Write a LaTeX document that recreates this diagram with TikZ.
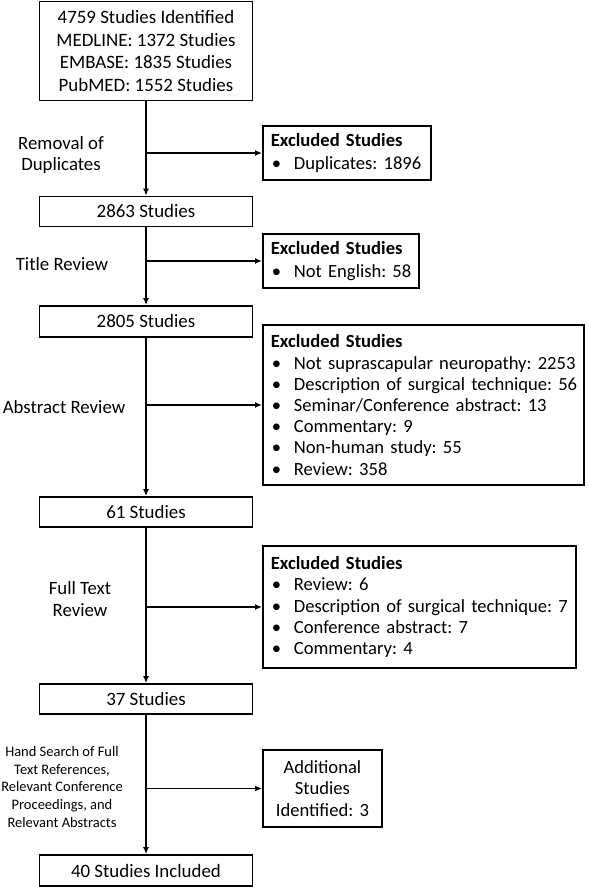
\documentclass[tikz,border=0pt]{standalone}
\usepackage{fontspec}
\setmainfont{Carlito}
\usetikzlibrary{arrows.meta}
\frenchspacing
\tikzset{
  stage/.style={draw, line width=1.8pt, minimum width=213pt, align=center, inner sep=2pt, font=\fontsize{18.9}{22.6}\selectfont},
  excl/.style={draw, line width=1.8pt, align=left, anchor=west, inner xsep=3pt, font=\fontsize{18.6}{21.2}\selectfont},
  lbl/.style={align=center, font=\fontsize{18.8}{21.5}\selectfont},
  flow/.style={line width=1.8pt, -{Latex[length=7pt,width=6pt]}}
}
\newcommand{\itm}[1]{\hspace*{6pt}\makebox[22pt][l]{\textbullet}#1}
\newcommand{\hdr}[1]{\hspace*{5pt}\textbf{#1}}
\begin{document}
\begin{tikzpicture}[x=1pt,y=-1pt]
        \useasboundingbox (0,0) rectangle (589,887);
        % Nodes
        \node (ident) [stage, minimum height=99pt] at (146, 51) {4759 Studies Identified\\MEDLINE: 1372 Studies\\EMBASE: 1835 Studies\\PubMED: 1552 Studies};
        \node (s2863) [stage, minimum height=30pt] at (146, 211.5) {2863 Studies};
        \node (s2805) [stage, minimum height=31pt] at (146, 321.5) {2805 Studies};
        \node (s61) [stage, minimum height=30pt] at (146, 512) {61 Studies};
        \node (s37) [stage, minimum height=30pt] at (146, 699) {37 Studies};
        \node (s40) [stage, minimum height=31pt] at (146, 870.5) {40 Studies Included};

        \node (ex1) [excl, text width=162pt, minimum height=54pt, font=\fontsize{18.6}{22.5}\selectfont] at (262, 153) {\hdr{Excluded Studies}\\\itm{Duplicates: 1896}};
        \node (ex2) [excl, text width=150pt, minimum height=54pt, font=\fontsize{18.6}{22.5}\selectfont] at (262, 261) {\hdr{Excluded Studies}\\\itm{Not English: 58}};
        \node (ex3) [excl, text width=315pt, minimum height=160pt] at (262, 405) {\hdr{Excluded Studies}\\\itm{Not suprascapular neuropathy: 2253}\\\itm{Description of surgical technique: 56}\\\itm{Seminar/Conference abstract: 13}\\\itm{Commentary: 9}\\\itm{Non-human study: 55}\\\itm{Review: 358}};
        \node (ex4) [excl, text width=307pt, minimum height=122pt] at (262, 607) {\hdr{Excluded Studies}\\\itm{Review: 6}\\\itm{Description of surgical technique: 7}\\\itm{Conference abstract: 7}\\\itm{Commentary: 4}};
        \node (add) [excl, align=center, text width=113pt, minimum height=77pt] at (262, 788.5) {Additional\\Studies\\Identified: 3};

        % Labels
        \node (l1) [lbl] at (61, 155) {Removal of\\Duplicates};
        \node (l2) [lbl] at (62, 264) {Title Review};
        \node (l3) [lbl] at (64, 407) {Abstract Review};
        \node (l4) [lbl] at (80, 599) {Full Text\\Review};
        \node (l5) [align=center, font=\fontsize{14.5}{17.8}\selectfont] at (62, 787) {Hand Search of Full\\Text References,\\Relevant Conference\\Proceedings, and\\Relevant Abstracts};

        % Branch points
        \coordinate (b1) at (146, 153);
        \coordinate (b2) at (146, 261);
        \coordinate (b3) at (146, 405);
        \coordinate (b4) at (146, 607);
        \coordinate (b5) at (146, 788.5);

        % Edges
        \draw[flow] (ident) -- (s2863);
        \draw[flow] (s2863) -- (s2805);
        \draw[flow] (s2805) -- (s61);
        \draw[flow] (s61) -- (s37);
        \draw[flow] (s37) -- (s40);
        \draw[flow] (b1) -- (ex1);
        \draw[flow] (b2) -- (ex2);
        \draw[flow] (b3) -- (ex3);
        \draw[flow] (b4) -- (ex4);
        \draw[flow] (b5) -- (add);
    \end{tikzpicture}
\end{document}
